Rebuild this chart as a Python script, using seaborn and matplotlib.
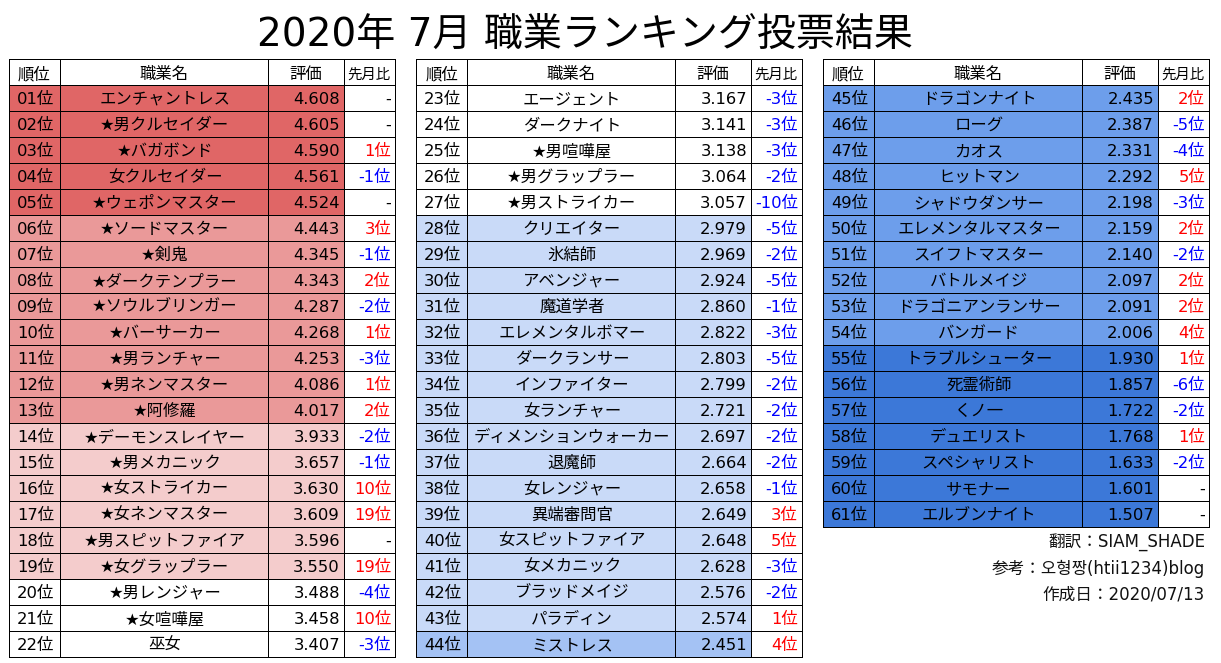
import numpy as np
import pandas as pd
import matplotlib
matplotlib.use("Agg")
import matplotlib.pyplot as plt
from matplotlib.colors import ListedColormap
import seaborn as sns

# data
jobs = [
    "エンチャントレス", "★男クルセイダー", "★バガボンド", "女クルセイダー", "★ウェポンマスター",
    "★ソードマスター", "★剣鬼", "★ダークテンプラー", "★ソウルブリンガー", "★バーサーカー",
    "★男ランチャー", "★男ネンマスター", "★阿修羅", "★デーモンスレイヤー", "★男メカニック",
    "★女ストライカー", "★女ネンマスター", "★男スピットファイア", "★女グラップラー", "★男レンジャー",
    "★女喧嘩屋", "巫女",
    "エージェント", "ダークナイト", "★男喧嘩屋", "★男グラップラー", "★男ストライカー",
    "クリエイター", "氷結師", "アベンジャー", "魔道学者", "エレメンタルボマー",
    "ダークランサー", "インファイター", "女ランチャー", "ディメンションウォーカー", "退魔師",
    "女レンジャー", "異端審問官", "女スピットファイア", "女メカニック", "ブラッドメイジ",
    "パラディン", "ミストレス",
    "ドラゴンナイト", "ローグ", "カオス", "ヒットマン", "シャドウダンサー",
    "エレメンタルマスター", "スイフトマスター", "バトルメイジ", "ドラゴニアンランサー", "バンガード",
    "トラブルシューター", "死霊術師", "くノ一", "デュエリスト", "スペシャリスト",
    "サモナー", "エルブンナイト",
]
ratings = [
    4.608, 4.605, 4.590, 4.561, 4.524, 4.443, 4.345, 4.343, 4.287, 4.268, 4.253,
    4.086, 4.017, 3.933, 3.657, 3.630, 3.609, 3.596, 3.550, 3.488, 3.458, 3.407,
    3.167, 3.141, 3.138, 3.064, 3.057, 2.979, 2.969, 2.924, 2.860, 2.822, 2.803,
    2.799, 2.721, 2.697, 2.664, 2.658, 2.649, 2.648, 2.628, 2.576, 2.574, 2.451,
    2.435, 2.387, 2.331, 2.292, 2.198, 2.159, 2.140, 2.097, 2.091, 2.006,
    1.930, 1.857, 1.722, 1.768, 1.633, 1.601, 1.507,
]
changes = [
    0, 0, 1, -1, 0, 3, -1, 2, -2, 1, -3, 1, 2, -2, -1, 10, 19, 0, 19, -4, 10, -3,
    -3, -3, -3, -2, -10, -5, -2, -5, -1, -3, -5, -2, -2, -2, -2, -1, 3, 5, -3, -2, 1, 4,
    2, -5, -4, 5, -3, 2, -2, 2, 2, 4, 1, -6, -2, 1, -2, 0, 0,
]
headers = ["順位", "職業名", "評価", "先月比"]
title = "2020年 7月 職業ランキング投票結果"
footer = ["翻訳：SIAM_SHADE", "参考：오형짱(htii1234)blog", "作成日：2020/07/13"]

# colour bands, low to high rating
band_edges = [2.0, 2.44, 2.5, 3.0, 3.5, 4.0, 4.5]
band_colors = ["#3c78d8", "#6d9eeb", "#a4c2f4", "#c9daf8", "#ffffff", "#f4cccc", "#ea9999", "#e06666"]
WHITE = band_colors.index("#ffffff")

W, H = 1221, 663
# the mesh edges land half a pixel off, so the grid is pulled back by 0.5
panels = [
    ([9, 60, 268, 344, 395], 0, 22),
    ([416, 467, 675, 751, 802], 22, 44),
    ([823, 874, 1082, 1158, 1209], 44, 61),
]
TOP, ROW_H = 59, 26

sns.set_theme(style="white")
plt.rcParams["font.family"] = ["DejaVu Sans", "Noto Sans CJK JP"]
FS = 11.8

df = pd.DataFrame({"job": jobs, "rating": ratings, "change": changes})
df["rank"] = [f"{i + 1:02d}位" for i in range(len(df))]
df["band"] = np.digitize(df["rating"], band_edges)
df["rating_txt"] = df["rating"].map("{:.3f}".format)
df["change_txt"] = df["change"].map(lambda c: f"{c}位" if c != 0 else "-")

fig = plt.figure(figsize=(W / 100, H / 100), dpi=100)
cmap = ListedColormap(band_colors)


def change_color(c):
    if c > 0:
        return "#ff0000"
    if c < 0:
        return "#0000ff"
    return "black"


for edges, start, stop in panels:
    part = df.iloc[start:stop]
    n = len(part) + 1
    height = n * ROW_H
    columns = [part["rank"], part["job"], part["rating_txt"], part["change_txt"]]
    for j, col in enumerate(columns):
        left, right = edges[j], edges[j + 1]
        ax = fig.add_axes([left / W, (H - TOP - height) / H, (right - left) / W, height / H])
        bands = [WHITE] + (list(part["band"]) if j < 3 else [WHITE] * len(part))
        labels = [headers[j]] + list(col)
        sns.heatmap(
            np.array(bands).reshape(-1, 1), ax=ax, cmap=cmap, vmin=0, vmax=len(band_colors) - 1,
            cbar=False, linewidths=0.72, linecolor="black", xticklabels=False, yticklabels=False,
            annot=np.array(labels).reshape(-1, 1), fmt="",
            annot_kws={"fontsize": FS, "color": "black"},
        )
        ax.patch.set_visible(False)
        ax.collections[0].set_clip_on(False)
        for i, t in enumerate(ax.texts):
            t.set_clip_on(False)
            t.set_y(i + 0.5 + 1.5 / ROW_H)
            if i == 0:
                t.set_y(0.5 + 2.5 / ROW_H)
                if j == 3:
                    t.set_fontsize(10.4)
                    t.set_x(0.5 - 1 / (right - left))
                continue
            if j < 2:
                t.set_x(0.5 + 1 / (right - left))
            else:
                # rating and change columns sit on the right edge of the cell
                t.set_ha("right")
                t.set_x(1 - 4 / (right - left))
            if j == 3:
                t.set_color(change_color(part["change"].iloc[i - 1]))

fig.text(585 / W, 1 - 36 / H, title, ha="center", va="center", fontsize=28.1, color="black")
for txt, y in zip(footer, [542.5, 568.5, 594.5]):
    fig.text(1205 / W, 1 - y / H, txt, ha="right", va="center", fontsize=12, color="#111111")

fig.savefig("out.png", dpi=100, facecolor="white")
